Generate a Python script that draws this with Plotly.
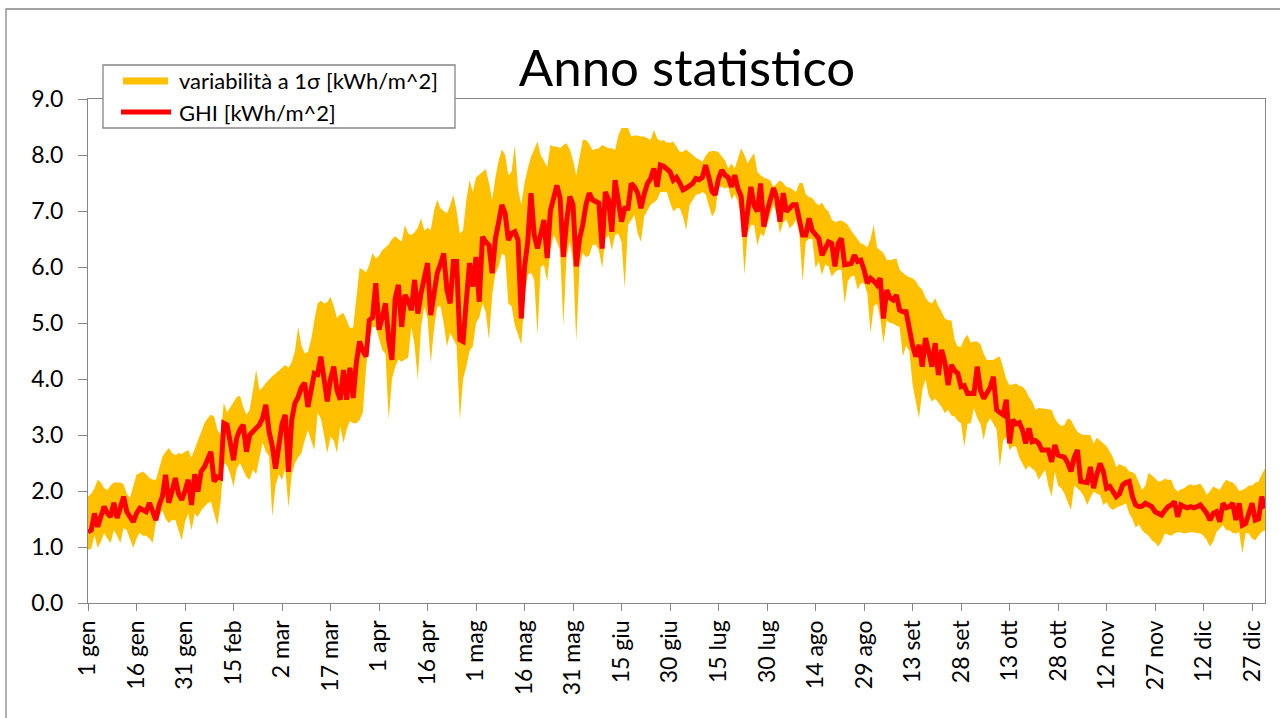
import plotly.graph_objects as go

# Daily statistics for a typical year (day index 0 = 1 January)
ghi = [
    1.27, 1.30, 1.60, 1.36, 1.55, 1.72, 1.60, 1.54, 1.79, 1.52,
    1.70, 1.90, 1.63, 1.52, 1.45, 1.60, 1.69, 1.66, 1.63, 1.79,
    1.65, 1.48, 1.75, 1.90, 2.29, 1.79, 2.00, 2.23, 1.95, 1.84,
    2.00, 2.20, 1.75, 2.30, 1.99, 2.35, 2.43, 2.55, 2.70, 2.17,
    2.25, 2.23, 3.21, 3.18, 2.90, 2.55, 2.95, 3.10, 3.18, 2.70,
    3.00, 3.06, 3.12, 3.18, 3.30, 3.54, 3.06, 2.80, 2.40, 2.88,
    3.20, 3.36, 2.34, 3.27, 3.57, 3.68, 3.85, 3.93, 3.50, 3.80,
    4.10, 4.08, 4.40, 4.00, 3.60, 4.00, 4.22, 3.80, 3.63, 4.16,
    3.63, 4.20, 3.66, 4.30, 4.67, 4.50, 4.40, 5.05, 5.10, 5.71,
    4.88, 5.10, 5.35, 4.70, 4.34, 5.44, 5.68, 4.93, 5.50, 5.40,
    5.23, 5.77, 5.17, 5.53, 5.80, 6.07, 5.14, 5.50, 5.89, 6.05,
    6.24, 5.59, 5.35, 6.10, 6.10, 4.70, 4.67, 5.40, 6.07, 5.65,
    6.18, 5.38, 6.54, 6.45, 6.39, 5.89, 6.51, 6.80, 7.11, 6.96,
    6.48, 6.60, 6.63, 6.48, 5.08, 6.00, 6.45, 7.32, 6.57, 6.33,
    6.60, 6.84, 6.16, 7.00, 7.23, 7.46, 7.23, 6.18, 6.80, 7.26,
    7.11, 6.01, 6.50, 6.75, 7.11, 7.32, 7.20, 7.18, 7.14, 6.33,
    7.34, 7.20, 6.63, 7.55, 7.10, 6.81, 7.05, 7.05, 7.49, 7.43,
    7.32, 7.05, 7.30, 7.49, 7.58, 7.76, 7.43, 7.82, 7.80, 7.76,
    7.70, 7.55, 7.60, 7.50, 7.38, 7.41, 7.45, 7.49, 7.58, 7.56,
    7.60, 7.82, 7.60, 7.35, 7.29, 7.58, 7.73, 7.64, 7.60, 7.43,
    7.64, 7.40, 7.26, 6.54, 6.99, 7.43, 7.10, 6.99, 7.49, 6.72,
    6.99, 7.20, 7.41, 7.23, 6.81, 7.32, 6.99, 7.05, 7.11, 7.11,
    6.80, 6.57, 6.57, 6.87, 6.65, 6.57, 6.51, 6.21, 6.35, 6.45,
    6.42, 6.01, 6.42, 6.51, 6.04, 6.04, 6.06, 6.21, 6.10, 6.12,
    5.95, 5.71, 5.80, 5.75, 5.68, 5.80, 5.08, 5.59, 5.45, 5.41,
    5.50, 5.23, 5.20, 5.20, 4.88, 4.60, 4.40, 4.61, 4.22, 4.73,
    4.50, 4.22, 4.64, 4.07, 4.52, 4.30, 3.89, 4.25, 4.15, 4.10,
    3.86, 3.88, 3.74, 3.74, 3.74, 4.22, 3.80, 3.65, 3.75, 3.85,
    4.04, 3.45, 3.40, 3.36, 3.63, 2.85, 3.27, 3.20, 3.22, 3.09,
    2.85, 3.12, 2.88, 2.90, 2.85, 2.73, 2.73, 2.73, 2.52, 2.82,
    2.64, 2.62, 2.60, 2.50, 2.35, 2.60, 2.73, 2.17, 2.15, 2.15,
    2.43, 2.05, 2.30, 2.49, 2.35, 2.05, 2.08, 2.00, 1.90, 1.95,
    2.11, 2.15, 2.17, 1.90, 1.75, 1.72, 1.73, 1.78, 1.76, 1.72,
    1.63, 1.60, 1.57, 1.65, 1.72, 1.75, 1.81, 1.54, 1.75, 1.72,
    1.70, 1.72, 1.70, 1.72, 1.75, 1.68, 1.60, 1.48, 1.60, 1.63,
    1.45, 1.78, 1.70, 1.72, 1.78, 1.48, 1.78, 1.39, 1.42, 1.60,
    1.78, 1.48, 1.50, 1.90, 1.69,
]

sigma_upper = [
    1.90, 1.95, 2.05, 2.20, 2.15, 2.05, 2.02, 2.10, 2.15, 2.15,
    2.15, 2.12, 1.95, 1.88, 2.10, 2.29, 2.32, 2.35, 2.30, 2.23,
    2.20, 2.20, 2.40, 2.61, 2.70, 2.77, 2.68, 2.64, 2.68, 2.66,
    2.70, 2.73, 2.60, 2.75, 2.91, 3.05, 3.21, 3.30, 3.36, 3.33,
    3.10, 3.00, 3.57, 3.40, 3.50, 3.60, 3.68, 3.70, 3.50, 3.36,
    3.45, 3.80, 4.16, 3.80, 3.85, 3.93, 4.00, 4.05, 4.10, 4.15,
    4.20, 4.25, 4.20, 4.30, 4.50, 4.93, 4.60, 4.46, 4.48, 4.70,
    5.05, 5.35, 5.40, 5.35, 5.37, 5.47, 5.30, 5.09, 5.15, 5.18,
    5.05, 4.91, 4.92, 5.50, 5.98, 5.95, 5.90, 6.04, 6.25, 6.15,
    6.20, 6.30, 6.35, 6.40, 6.50, 6.55, 6.50, 6.45, 6.75, 6.60,
    6.57, 6.62, 6.70, 6.87, 6.65, 6.70, 6.66, 7.00, 7.20, 7.05,
    7.00, 6.96, 7.10, 7.29, 7.00, 6.60, 6.65, 7.20, 7.55, 7.34,
    7.60, 7.65, 7.70, 7.75, 7.50, 7.20, 7.60, 7.90, 8.10, 8.00,
    7.64, 7.70, 8.18, 7.40, 7.11, 7.50, 7.76, 7.97, 8.10, 8.24,
    8.00, 7.90, 7.79, 8.18, 8.15, 8.15, 8.12, 8.18, 8.21, 8.10,
    7.90, 7.64, 7.95, 8.27, 8.27, 8.20, 8.09, 8.10, 8.12, 8.18,
    8.15, 8.12, 8.12, 8.09, 8.35, 8.48, 8.48, 8.48, 8.33, 8.35,
    8.35, 8.33, 8.33, 8.30, 8.27, 8.45, 8.30, 8.25, 8.27, 8.22,
    8.22, 8.24, 8.15, 8.06, 8.06, 8.10, 8.05, 8.00, 7.95, 7.92,
    7.88, 7.98, 8.06, 8.07, 8.07, 8.05, 7.97, 7.90, 7.76, 7.85,
    7.76, 7.95, 8.12, 8.00, 7.85, 7.95, 8.03, 7.70, 7.64, 7.60,
    7.58, 7.55, 7.43, 7.50, 7.55, 7.50, 7.43, 7.42, 7.38, 7.34,
    7.50, 7.50, 7.30, 7.25, 7.23, 7.15, 7.10, 7.15, 7.05, 6.99,
    6.85, 6.80, 6.82, 6.83, 6.80, 6.75, 6.65, 6.57, 6.50, 6.42,
    6.40, 6.35, 6.50, 6.75, 6.35, 6.30, 6.25, 6.13, 6.12, 6.14,
    6.15, 5.95, 5.90, 5.85, 5.82, 5.80, 5.75, 5.65, 5.60, 5.45,
    5.38, 5.35, 5.44, 5.30, 5.20, 5.08, 5.05, 5.05, 4.70, 4.58,
    4.58, 4.72, 4.79, 4.65, 4.67, 4.67, 4.62, 4.45, 4.34, 4.34,
    4.34, 4.38, 4.40, 4.20, 4.00, 3.89, 3.90, 3.92, 3.88, 3.86,
    3.80, 3.68, 3.60, 3.45, 3.48, 3.48, 3.47, 3.46, 3.45, 3.30,
    3.21, 3.16, 3.18, 3.30, 3.27, 3.15, 3.06, 3.02, 3.00, 3.00,
    3.00, 2.85, 2.95, 2.90, 2.85, 2.80, 2.70, 2.60, 2.43, 2.48,
    2.45, 2.43, 2.35, 2.34, 2.29, 2.15, 2.02, 2.10, 2.32, 2.28,
    2.22, 2.17, 2.18, 2.22, 2.20, 2.20, 2.05, 1.99, 2.03, 2.05,
    2.10, 2.12, 2.10, 2.12, 2.13, 2.05, 1.93, 2.00, 2.08, 2.05,
    2.02, 2.12, 2.20, 2.17, 2.15, 2.10, 2.00, 2.02, 2.05, 2.10,
    2.10, 2.15, 2.17, 2.30, 2.40,
]

sigma_lower = [
    0.95, 0.97, 1.21, 0.98, 1.10, 1.25, 1.15, 1.07, 1.30, 1.20,
    1.07, 1.34, 1.30, 1.15, 0.98, 1.15, 1.25, 1.20, 1.20, 1.15,
    1.07, 1.43, 1.55, 1.66, 1.50, 1.43, 1.48, 1.48, 1.30, 1.12,
    1.45, 1.60, 1.30, 1.60, 1.54, 1.65, 1.72, 1.78, 1.81, 1.60,
    1.39, 1.80, 2.50, 2.45, 2.30, 2.08, 2.40, 2.50, 2.38, 2.25,
    2.20, 2.38, 2.30, 2.60, 2.86, 2.70, 2.62, 1.54, 2.10, 2.30,
    2.20, 2.40, 1.70, 2.30, 2.50, 2.60, 2.68, 2.90, 3.09, 2.90,
    2.73, 3.39, 3.30, 3.00, 2.68, 2.97, 2.90, 2.68, 3.15, 2.86,
    3.10, 3.25, 3.21, 3.21, 3.27, 3.40, 4.20, 4.70, 4.93, 4.93,
    4.70, 4.52, 4.45, 3.27, 4.00, 4.22, 4.35, 4.31, 4.35, 4.38,
    4.93, 4.60, 3.98, 4.93, 5.29, 5.10, 4.28, 4.90, 5.29, 5.30,
    5.00, 4.58, 4.82, 4.70, 4.60, 3.27, 4.00, 4.22, 4.50, 4.58,
    5.00, 5.10, 5.35, 5.20, 4.70, 5.50, 5.89, 6.00, 6.24, 6.20,
    5.35, 5.30, 4.96, 4.80, 4.61, 5.50, 5.86, 5.90, 5.77, 4.79,
    6.00, 6.04, 5.74, 6.30, 6.57, 6.45, 6.30, 4.96, 6.20, 6.45,
    6.10, 4.67, 6.00, 6.25, 6.18, 6.20, 6.39, 6.40, 6.30, 5.98,
    6.50, 6.57, 6.30, 6.57, 6.60, 6.45, 5.62, 6.75, 6.85, 6.93,
    6.60, 6.45, 6.90, 7.00, 7.11, 7.15, 7.20, 7.34, 7.34, 7.34,
    7.15, 6.99, 7.05, 7.05, 6.90, 6.66, 7.10, 7.20, 7.29, 7.30,
    7.34, 7.30, 7.10, 6.90, 7.00, 7.45, 7.43, 7.40, 7.43, 7.20,
    7.30, 7.17, 6.90, 5.86, 6.60, 6.75, 6.75, 6.39, 6.60, 6.55,
    6.75, 6.95, 7.11, 6.95, 6.60, 6.80, 6.85, 6.69, 6.75, 6.85,
    6.60, 5.74, 6.45, 6.50, 6.50, 5.98, 6.10, 5.86, 6.05, 6.01,
    5.83, 5.90, 5.95, 5.95, 5.35, 5.75, 5.83, 5.85, 5.60, 5.70,
    5.72, 5.53, 4.82, 5.30, 5.35, 5.10, 4.64, 5.05, 5.00, 4.99,
    4.95, 4.93, 4.40, 4.60, 4.50, 3.90, 3.60, 3.30, 3.80, 4.00,
    3.70, 3.60, 3.65, 3.57, 3.50, 3.39, 3.45, 3.35, 3.33, 3.25,
    3.21, 2.79, 3.20, 3.21, 3.48, 3.30, 3.20, 2.91, 3.20, 3.30,
    3.21, 3.10, 2.43, 2.90, 2.97, 2.73, 2.80, 2.79, 2.60, 2.50,
    2.38, 2.45, 2.40, 2.35, 2.20, 2.30, 2.38, 2.10, 1.90, 2.35,
    2.10, 2.05, 1.95, 1.80, 1.66, 2.10, 2.05, 1.99, 1.90, 1.75,
    1.88, 1.99, 1.95, 1.93, 1.75, 1.80, 1.70, 1.66, 1.70, 1.72,
    1.75, 1.78, 1.60, 1.50, 1.35, 1.40, 1.30, 1.24, 1.20, 1.12,
    1.08, 1.01, 1.10, 1.24, 1.22, 1.20, 1.24, 1.27, 1.26, 1.24,
    1.25, 1.27, 1.26, 1.25, 1.24, 1.20, 1.12, 1.01, 1.10, 1.27,
    1.33, 1.39, 1.30, 1.30, 1.25, 1.24, 1.27, 0.89, 1.25, 1.24,
    1.15, 1.12, 1.20, 1.27, 1.30,
]

tick_days = [0, 15, 30, 45, 60, 75, 90, 105, 120, 135, 150, 165, 180,
             195, 210, 225, 240, 255, 270, 285, 300, 315, 330, 345, 360]
tick_labels = ["1 gen", "16 gen", "31 gen", "15 feb", "2 mar", "17 mar",
               "1 apr", "16 apr", "1 mag", "16 mag", "31 mag", "15 giu",
               "30 giu", "15 lug", "30 lug", "14 ago", "29 ago", "13 set",
               "28 set", "13 ott", "28 ott", "12 nov", "27 nov", "12 dic",
               "27 dic"]

legend_names = ["variabilità a 1σ [kWh/m^2]", "GHI [kWh/m^2]"]

assert len(ghi) == len(sigma_upper) == len(sigma_lower) == 365
days = list(range(len(ghi)))

BAND = "#FFC000"
LINE = "#FF0000"
GREY = "#868686"
FONT = "Lato"

W, H = 1280, 718
L, R, T, B = 88, 15, 99, 115


def px_x(px):
    """Horizontal pixel position -> paper coordinate."""
    return (px - L) / (W - L - R)


def px_y(px):
    """Vertical pixel position (from top) -> paper coordinate."""
    return (H - B - px) / (H - T - B)


fig = go.Figure()

# 1-sigma band: lower edge, then upper edge filled down to it
fig.add_trace(go.Scatter(x=days, y=sigma_lower, mode="lines",
                         line=dict(width=0, color=BAND),
                         hoverinfo="skip", showlegend=False))
fig.add_trace(go.Scatter(x=days, y=sigma_upper, mode="lines",
                         line=dict(width=0, color=BAND),
                         fill="tonexty", fillcolor=BAND,
                         hoverinfo="skip", showlegend=False))
# daily GHI
fig.add_trace(go.Scatter(x=days, y=ghi, mode="lines",
                         line=dict(color=LINE, width=5),
                         hoverinfo="skip", showlegend=False))

# outer chart frame
fig.add_shape(type="rect", xref="paper", yref="paper",
              x0=px_x(6), x1=px_x(1300), y0=px_y(740), y1=px_y(9),
              line=dict(color=GREY, width=1.3), layer="below")

# legend box with its two swatches and labels
fig.add_shape(type="rect", xref="paper", yref="paper",
              x0=px_x(103), x1=px_x(455), y0=px_y(128), y1=px_y(65),
              line=dict(color=GREY, width=1.3), fillcolor="white", layer="above")
fig.add_shape(type="line", xref="paper", yref="paper",
              x0=px_x(123), x1=px_x(168), y0=px_y(81), y1=px_y(81),
              line=dict(color=BAND, width=7), layer="above")
fig.add_shape(type="line", xref="paper", yref="paper",
              x0=px_x(121), x1=px_x(171), y0=px_y(112), y1=px_y(112),
              line=dict(color=LINE, width=5), layer="above")
for name, ypx in zip(legend_names, [81, 112]):
    fig.add_annotation(text=name, xref="paper", yref="paper",
                       x=px_x(177), y=px_y(ypx), xanchor="left", yanchor="middle",
                       showarrow=False,
                       font=dict(size=22, family=FONT, color="black"))

fig.update_layout(
    width=W, height=H,
    margin=dict(l=L, r=R, t=T, b=B),
    paper_bgcolor="white", plot_bgcolor="white",
    font=dict(family=FONT, color="black"),
    title=dict(text="Anno statistico", xref="paper", x=px_x(687),
               xanchor="center", yref="container", y=1 - 68 / H,
               yanchor="middle", font=dict(size=51, family=FONT, color="black")),
    showlegend=False,
)

fig.update_xaxes(range=[0, 364], tickmode="array", tickvals=tick_days,
                 ticktext=tick_labels, tickangle=-90,
                 tickfont=dict(size=23, family=FONT, color="black"),
                 showgrid=False, zeroline=False,
                 showline=True, linecolor=GREY, linewidth=1.3, mirror=True,
                 ticks="outside", ticklen=7, tickcolor=GREY)
fig.update_yaxes(range=[0, 9], dtick=1, tickformat=".1f",
                 tickfont=dict(size=23, family=FONT, color="black"),
                 showgrid=False, zeroline=False,
                 showline=True, linecolor=GREY, linewidth=1.3, mirror=True,
                 ticks="outside", ticklen=9, tickcolor=GREY,
                 ticklabelstandoff=10)

fig.write_html("out.html")
